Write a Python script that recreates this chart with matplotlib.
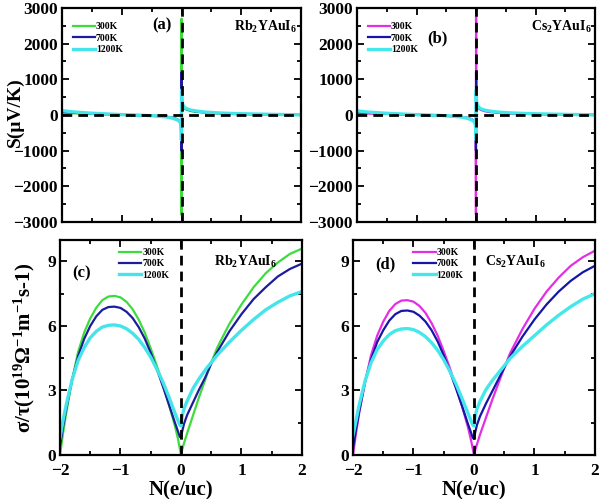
import matplotlib
matplotlib.use("Agg")
import matplotlib.pyplot as plt
from matplotlib.ticker import MultipleLocator

plt.rcParams['font.family'] = ['Liberation Serif', 'DejaVu Serif']
plt.rcParams['font.weight'] = 'bold'
plt.rcParams['mathtext.fontset'] = 'custom'
plt.rcParams['mathtext.rm'] = 'Liberation Serif:bold'
plt.rcParams['mathtext.bf'] = 'Liberation Serif:bold'
plt.rcParams['mathtext.it'] = 'Liberation Serif:bold:italic'

# ---------------- data ----------------
temps = ['300K', '700K', '1200K']

# Seebeck coefficient S (uV/K) vs N (e/uc)
N_s = [-2.0, -1.8, -1.5, -1.2, -1.0, -0.8, -0.6, -0.4, -0.25, -0.15, -0.08, -0.04, -0.02,
       -0.01, -0.004, -0.001, 0.001, 0.004, 0.01, 0.02, 0.04, 0.08, 0.15, 0.25, 0.4, 0.6,
       0.8, 1.0, 1.2, 1.5, 1.8, 2.0]
S_rb_300 = [60, 45, 30, 15, 5, -5, -15, -30, -50, -75, -110, -150, -190, -250, -600, -2800,
            2700, 700, 350, 250, 190, 150, 110, 85, 65, 45, 35, 25, 20, 12, 5, 0]
S_rb_700 = [90, 65, 40, 20, 8, -3, -15, -30, -50, -80, -115, -155, -195, -260, -500, -1000,
            1200, 600, 380, 280, 210, 165, 125, 95, 70, 50, 40, 30, 22, 14, 6, 2]
S_rb_1200 = [120, 85, 50, 25, 10, 0, -12, -30, -55, -90, -130, -170, -210, -280, -450, -700,
             700, 500, 400, 300, 230, 180, 140, 110, 80, 60, 45, 35, 28, 18, 10, 4]
S_cs_300 = [55, 40, 28, 14, 4, -6, -16, -32, -52, -78, -112, -150, -190, -250, -600, -2800,
            2800, 700, 340, 240, 185, 145, 105, 80, 60, 42, 32, 24, 18, 11, 5, 0]
S_cs_700 = [85, 60, 38, 18, 7, -4, -16, -32, -52, -82, -118, -158, -198, -265, -520, -1000,
            1200, 600, 370, 270, 205, 160, 120, 92, 68, 48, 38, 28, 21, 13, 6, 2]
S_cs_1200 = [115, 80, 48, 24, 9, -1, -13, -32, -57, -92, -132, -172, -212, -285, -460, -700,
             700, 500, 390, 295, 225, 175, 135, 105, 78, 58, 44, 34, 27, 17, 9, 3]

# Electrical conductivity sigma/tau (10^19 Ohm^-1 m^-1 s^-1) vs N (e/uc)
N_c = [-2.0, -1.95, -1.9, -1.8, -1.7, -1.6, -1.5, -1.4, -1.3, -1.2, -1.1, -1.0, -0.9, -0.8,
       -0.7, -0.6, -0.5, -0.4, -0.3, -0.2, -0.1, -0.05, -0.02, 0.0, 0.02, 0.05, 0.1, 0.2,
       0.3, 0.4, 0.5, 0.6, 0.8, 1.0, 1.2, 1.4, 1.6, 1.8, 2.0]
C_rb_300 = [0.0, 1.0, 1.9, 3.5, 4.8, 5.7, 6.35, 6.85, 7.2, 7.37, 7.4, 7.33, 7.12, 6.78, 6.3,
            5.7, 4.95, 4.15, 3.3, 2.35, 1.35, 0.75, 0.3, 0.0, 0.25, 0.55, 1.0, 1.85, 2.7,
            3.5, 4.3, 5.0, 6.1, 7.0, 7.8, 8.45, 8.95, 9.35, 9.6]
C_rb_700 = [0.4, 1.3, 2.1, 3.5, 4.6, 5.4, 6.0, 6.45, 6.75, 6.88, 6.9, 6.84, 6.66, 6.37, 5.95,
            5.42, 4.75, 4.0, 3.2, 2.35, 1.5, 1.1, 0.85, 0.8, 1.1, 1.45, 1.85, 2.45, 3.05,
            3.6, 4.25, 4.8, 5.75, 6.55, 7.25, 7.8, 8.3, 8.65, 8.9]
C_rb_1200 = [0.8, 1.6, 2.3, 3.5, 4.4, 5.0, 5.45, 5.75, 5.95, 6.03, 6.05, 6.0, 5.87, 5.66,
             5.38, 5.0, 4.55, 4.0, 3.4, 2.7, 1.95, 1.6, 1.4, 1.35, 1.8, 2.15, 2.5, 3.1,
             3.55, 3.95, 4.3, 4.65, 5.25, 5.8, 6.3, 6.75, 7.1, 7.4, 7.6]
C_cs_300 = [0.0, 1.0, 1.9, 3.4, 4.65, 5.55, 6.2, 6.7, 7.02, 7.18, 7.2, 7.13, 6.93, 6.6, 6.13,
            5.55, 4.83, 4.05, 3.2, 2.3, 1.3, 0.7, 0.3, 0.0, 0.22, 0.5, 0.95, 1.75, 2.55,
            3.3, 4.05, 4.75, 5.85, 6.8, 7.6, 8.25, 8.8, 9.2, 9.5]
C_cs_700 = [0.3, 1.2, 2.0, 3.4, 4.45, 5.25, 5.8, 6.25, 6.55, 6.7, 6.72, 6.66, 6.48, 6.2, 5.8,
            5.28, 4.63, 3.9, 3.12, 2.3, 1.45, 1.05, 0.8, 0.75, 1.05, 1.4, 1.8, 2.4, 2.95,
            3.5, 4.05, 4.6, 5.5, 6.3, 7.0, 7.6, 8.1, 8.5, 8.8]
C_cs_1200 = [0.9, 1.6, 2.3, 3.45, 4.3, 4.9, 5.3, 5.6, 5.78, 5.86, 5.88, 5.83, 5.7, 5.5, 5.22,
             4.87, 4.43, 3.9, 3.32, 2.65, 1.95, 1.6, 1.4, 1.35, 1.8, 2.15, 2.5, 3.05, 3.45,
             3.8, 4.15, 4.5, 5.05, 5.55, 6.05, 6.5, 6.9, 7.25, 7.5]

# ---------------- style ----------------
col_rb = ['#3ddc3d', '#1c1c9c', '#45e3ea']
col_cs = ['#e42ee4', '#1515a8', '#45e8ea']
lws = [1.6, 1.6, 2.4]

fig = plt.figure(figsize=(6.0, 4.99), dpi=100)
ax_a = fig.add_axes([0.1033, 0.5551, 0.3984, 0.4289])
ax_b = fig.add_axes([0.5950, 0.5551, 0.3967, 0.4289])
ax_c = fig.add_axes([0.1000, 0.0882, 0.4033, 0.4309])
ax_d = fig.add_axes([0.5883, 0.0882, 0.4033, 0.4309])

TICK_FS = 12.5


def style_axes(ax):
    for sp in ax.spines.values():
        sp.set_linewidth(1.6)
    ax.tick_params(which='both', direction='in', top=True, right=True,
                   width=1.3, labelsize=TICK_FS, pad=3)
    ax.tick_params(which='major', length=5)
    ax.tick_params(which='minor', length=3)
    ax.set_xlim(-2, 2)
    ax.xaxis.set_major_locator(MultipleLocator(1))
    ax.xaxis.set_minor_locator(MultipleLocator(0.5))
    for lab in ax.get_xticklabels() + ax.get_yticklabels():
        lab.set_fontweight('bold')


leg_font = {'family': 'Liberation Serif', 'weight': 'bold', 'size': 7}

# Seebeck panels
for ax, series, cols, panel, comp, ptxt in [
        (ax_a, [S_rb_300, S_rb_700, S_rb_1200], col_rb, '(a)', 'Rb$_2$YAuI$_6$', (0.42, 0.92)),
        (ax_b, [S_cs_300, S_cs_700, S_cs_1200], col_cs, '(b)', 'Cs$_2$YAuI$_6$', (0.34, 0.86))]:
    for s, c, lw, t in zip(series, cols, lws, temps):
        ax.plot(N_s, s, color=c, lw=lw, label=t)
    ax.axhline(0, color='black', lw=2, dashes=(3.5, 2.2), zorder=5)
    ax.axvline(0, color='black', lw=2, dashes=(3.5, 2.2), zorder=5)
    ax.set_ylim(-3000, 3000)
    ax.yaxis.set_major_locator(MultipleLocator(1000))
    ax.yaxis.set_minor_locator(MultipleLocator(500))
    style_axes(ax)
    ax.tick_params(labelbottom=False)
    ax.legend(loc='upper left', bbox_to_anchor=(0.02, 0.96), frameon=False, prop=leg_font,
              handlelength=2.3, handletextpad=0.1, labelspacing=0.25, borderaxespad=0.2)
    ax.text(ptxt[0], ptxt[1], panel, transform=ax.transAxes, fontsize=12,
            fontweight='bold', ha='center', va='center')
    ax.text(0.985, 0.91, comp, transform=ax.transAxes, fontsize=10,
            fontweight='bold', ha='right', va='center')

ax_a.set_ylabel('S(μV/K)', fontsize=14, fontweight='bold')
ax_a.yaxis.set_label_coords(-0.16, 0.515)

# Conductivity panels
for ax, series, cols, panel, comp, ptxt, ctxt, legx in [
        (ax_c, [C_rb_300, C_rb_700, C_rb_1200], col_rb, '(c)', 'Rb$_2$YAuI$_6$',
         (0.09, 0.845), (0.765, 0.9), 0.22),
        (ax_d, [C_cs_300, C_cs_700, C_cs_1200], col_cs, '(d)', 'Cs$_2$YAuI$_6$',
         (0.135, 0.885), (0.67, 0.9), 0.225)]:
    for s, c, lw, t in zip(series, cols, lws, temps):
        ax.plot(N_c, s, color=c, lw=lw, label=t)
    ax.axvline(0, color='black', lw=2, dashes=(3.5, 2.2), zorder=5)
    ax.set_ylim(0, 10)
    ax.yaxis.set_major_locator(MultipleLocator(3))
    ax.yaxis.set_minor_locator(MultipleLocator(1.5))
    style_axes(ax)
    ax.tick_params(axis='x', which='both', pad=6)
    ax.set_xlabel('N(e/uc)', fontsize=15, fontweight='bold', labelpad=0.5)
    ax.legend(loc='upper left', bbox_to_anchor=(legx, 0.99), frameon=False, prop=leg_font,
              handlelength=2.3, handletextpad=0.1, labelspacing=0.25, borderaxespad=0.2)
    ax.text(ptxt[0], ptxt[1], panel, transform=ax.transAxes, fontsize=12,
            fontweight='bold', ha='center', va='center')
    ax.text(ctxt[0], ctxt[1], comp, transform=ax.transAxes, fontsize=10,
            fontweight='bold', ha='center', va='center')

ax_c.set_ylabel('σ/τ(10$^{19}$Ω$^{-1}$m$^{-1}$s-1)', fontsize=15, fontweight='bold')
ax_c.yaxis.set_label_coords(-0.095, 0.5)

fig.savefig('out.png', dpi=100)
